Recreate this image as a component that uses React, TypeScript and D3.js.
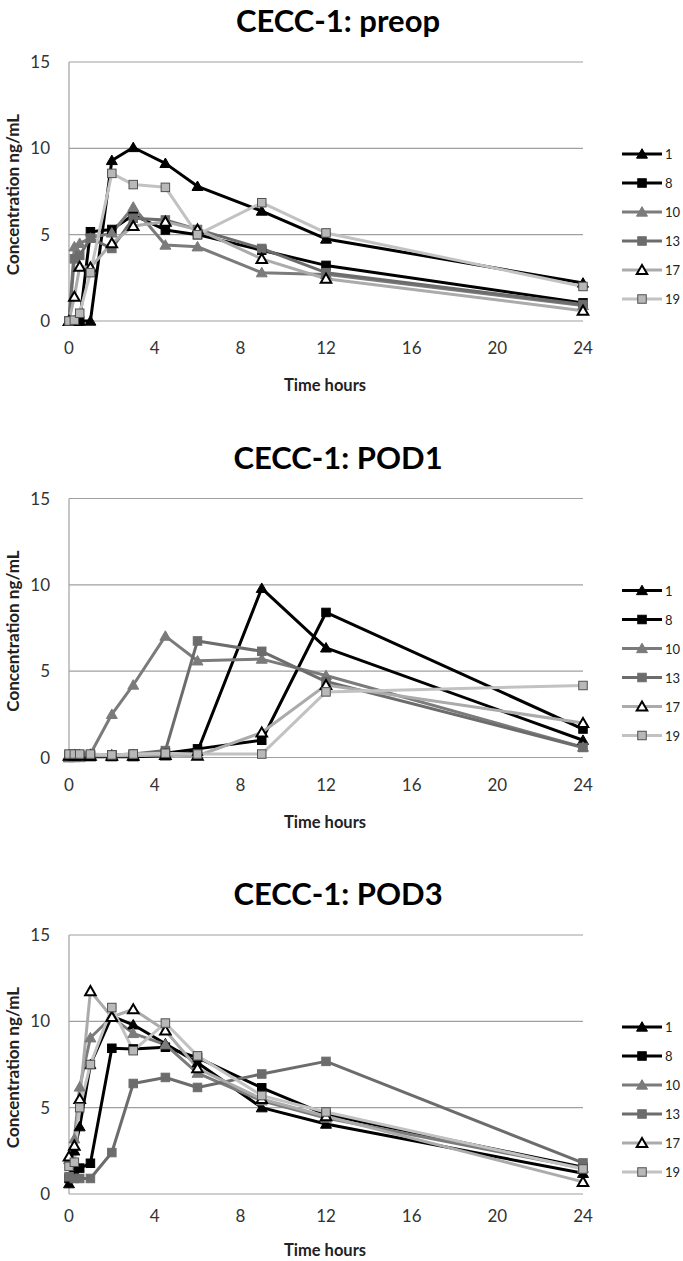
import React from "react";
import * as d3 from "d3";

const times = [0, 0.25, 0.5, 1, 2, 3, 4.5, 6, 9, 12, 24];
const seriesNames = ["1", "8", "10", "13", "17", "19"];
const panelTitles = ["CECC-1: preop", "CECC-1: POD1", "CECC-1: POD3"];
const yTicks = [0, 5, 10, 15];
const xTicks = [0, 4, 8, 12, 16, 20, 24];

// preop
const preop1 = [0, 0, 0, 0, 9.3, 10.05, 9.13, 7.8, 6.37, 4.75, 2.2];
const preop8 = [0, 0, 0, 5.17, 5.3, 6.14, 5.27, 5.0, 4.1, 3.22, 1.05];
const preop10 = [0, 4.3, 4.5, 4.8, 5.1, 6.6, 4.4, 4.3, 2.8, 2.7, 0.9];
const preop13 = [0, 3.6, 3.8, 4.8, 4.2, 5.95, 5.85, 5.3, 4.2, 2.8, 0.95];
const preop17 = [0, 1.4, 3.15, 3.1, 4.5, 5.5, 5.75, 5.3, 3.6, 2.45, 0.6];
const preop19 = [0, 0.05, 0.45, 2.8, 8.55, 7.9, 7.74, 5.0, 6.85, 5.1, 2.0];

// POD1
const pod1_1 = [0, 0.05, 0.05, 0.05, 0.05, 0.05, 0.1, 0.35, 9.8, 6.35, 1.0];
const pod1_8 = [0.1, 0.1, 0.1, 0.1, 0.15, 0.15, 0.25, 0.5, 1.0, 8.4, 1.65];
const pod1_10 = [0, 0, 0, 0.2, 2.5, 4.2, 7.03, 5.6, 5.7, 4.75, 0.6];
const pod1_13 = [0.15, 0.15, 0.15, 0.15, 0.15, 0.2, 0.4, 6.75, 6.15, 4.4, 0.58];
const pod1_17 = [0.1, 0.1, 0.1, 0.1, 0.1, 0.1, 0.15, 0.1, 1.45, 4.2, 2.0];
const pod1_19 = [0.2, 0.2, 0.2, 0.2, 0.15, 0.2, 0.25, 0.2, 0.2, 3.8, 4.17];

// POD3
const pod3_1 = [0.6, 2.5, 3.9, 7.5, 10.3, 9.8, 8.7, 7.6, 5.0, 4.05, 1.2];
const pod3_8 = [0.9, 1.3, 1.5, 1.78, 8.44, 8.4, 8.5, 7.9, 6.15, 4.6, 1.55];
const pod3_10 = [2.0, 3.2, 6.2, 9.05, 10.25, 9.3, 8.65, 7.0, 5.4, 4.4, 1.5];
const pod3_13 = [1.0, 0.9, 0.9, 0.9, 2.4, 6.4, 6.75, 6.17, 6.95, 7.68, 1.8];
const pod3_17 = [2.17, 2.8, 5.5, 11.75, 10.25, 10.7, 9.47, 7.28, 5.5, 4.5, 0.7];
const pod3_19 = [1.6, 1.84, 5.0, 7.5, 10.8, 8.3, 9.9, 8.0, 5.7, 4.75, 1.45];

const panelData = [
  [preop1, preop8, preop10, preop13, preop17, preop19],
  [pod1_1, pod1_8, pod1_10, pod1_13, pod1_17, pod1_19],
  [pod3_1, pod3_8, pod3_10, pod3_13, pod3_17, pod3_19],
];

type Style = { line: string; shape: "tri" | "sq"; fill: string; stroke: string };
const styles: Style[] = [
  { line: "#000000", shape: "tri", fill: "#000000", stroke: "#000000" },
  { line: "#000000", shape: "sq", fill: "#000000", stroke: "#000000" },
  { line: "#7b7b7b", shape: "tri", fill: "#7b7b7b", stroke: "#7b7b7b" },
  { line: "#6c6c6c", shape: "sq", fill: "#6c6c6c", stroke: "#6c6c6c" },
  { line: "#ababab", shape: "tri", fill: "#ffffff", stroke: "#000000" },
  { line: "#c2c2c2", shape: "sq", fill: "#b8b8b8", stroke: "#505050" },
];

const FONT = "Lato, 'Open Sans', sans-serif";
const W = 683;
const H = 1261;
const PANEL_STEP = 436.5;
const PLOT_TOP = 62;
const PLOT_H = 259;
const PLOT_L = 69;
const PLOT_R = 583;
// x-label / x-title offsets below the plot for each panel
const xLabelOffsets = [33, 33, 28];
const xTitleOffsets = [70, 70, 62];

function Marker({ s, x, y }: { s: Style; x: number; y: number }) {
  if (s.shape === "sq") {
    const a = 8.5;
    return <rect x={x - a / 2} y={y - a / 2} width={a} height={a} fill={s.fill} stroke={s.stroke} strokeWidth={1} />;
  }
  const sym = d3.symbol().type(d3.symbolTriangle).size(s.fill === "#ffffff" ? 48 : 52)();
  return (
    <path
      d={sym || ""}
      transform={`translate(${x},${y + 1})`}
      fill={s.fill}
      stroke={s.stroke}
      strokeWidth={s.fill === "#ffffff" ? 2 : 1}
    />
  );
}

function Panel({ idx }: { idx: number }) {
  const off = idx * PANEL_STEP;
  const top = PLOT_TOP + off;
  const bottom = top + PLOT_H;
  const x = d3.scaleLinear().domain([0, 24]).range([PLOT_L, PLOT_R]);
  const y = d3.scaleLinear().domain([0, 15]).range([bottom, top]);
  const line = d3
    .line<number>()
    .x((_, i) => x(times[i]))
    .y((v) => y(v));
  const data = panelData[idx];
  return (
    <g>
      <text x={338} y={32 + off} textAnchor="middle" fontFamily={FONT} fontWeight={700} fontSize={31} fill="#000">
        {panelTitles[idx]}
      </text>
      {yTicks.map((t) => (
        <g key={t}>
          <line x1={PLOT_L} x2={PLOT_R} y1={y(t)} y2={y(t)} stroke="#a0a0a0" strokeWidth={1.2} />
          <text x={50} y={y(t) + 6} textAnchor="end" fontFamily={FONT} fontSize={17} fill="#333">
            {t}
          </text>
        </g>
      ))}
      <line x1={PLOT_L} x2={PLOT_L} y1={top} y2={bottom} stroke="#a0a0a0" strokeWidth={1.2} />
      {xTicks.map((t) => (
        <text key={t} x={x(t)} y={bottom + xLabelOffsets[idx]} textAnchor="middle" fontFamily={FONT} fontSize={17} fill="#333">
          {t}
        </text>
      ))}
      <text x={325} y={bottom + xTitleOffsets[idx]} textAnchor="middle" fontFamily={FONT} fontWeight={700} fontSize={16.5} fill="#222">
        Time hours
      </text>
      <text
        transform={`translate(19,${(top + bottom) / 2 + 3}) rotate(-90)`}
        textAnchor="middle"
        fontFamily={FONT}
        fontWeight={700}
        fontSize={17}
        fill="#222"
      >
        Concentration ng/mL
      </text>
      {data.map((vals, si) => (
        <path key={si} d={line(vals) || ""} fill="none" stroke={styles[si].line} strokeWidth={3} strokeLinejoin="round" />
      ))}
      {data.map((vals, si) => (
        <g key={si}>
          {vals.map((v, i) => (
            <Marker key={i} s={styles[si]} x={x(times[i])} y={y(v)} />
          ))}
        </g>
      ))}
      {seriesNames.map((n, si) => {
        const ly = top + 92 + si * 29;
        return (
          <g key={n}>
            <line x1={622} x2={662} y1={ly} y2={ly} stroke={styles[si].line} strokeWidth={3} />
            <Marker s={styles[si]} x={642} y={ly} />
            <text x={665} y={ly + 5} fontFamily={FONT} fontSize={13} fill="#222">
              {n}
            </text>
          </g>
        );
      })}
    </g>
  );
}

export default function App() {
  return (
    <svg width={W} height={H} style={{ position: "absolute", left: 0, top: 0, background: "#fff" }}>
      <rect width={W} height={H} fill="#fff" />
      {[0, 1, 2].map((i) => (
        <Panel key={i} idx={i} />
      ))}
    </svg>
  );
}
